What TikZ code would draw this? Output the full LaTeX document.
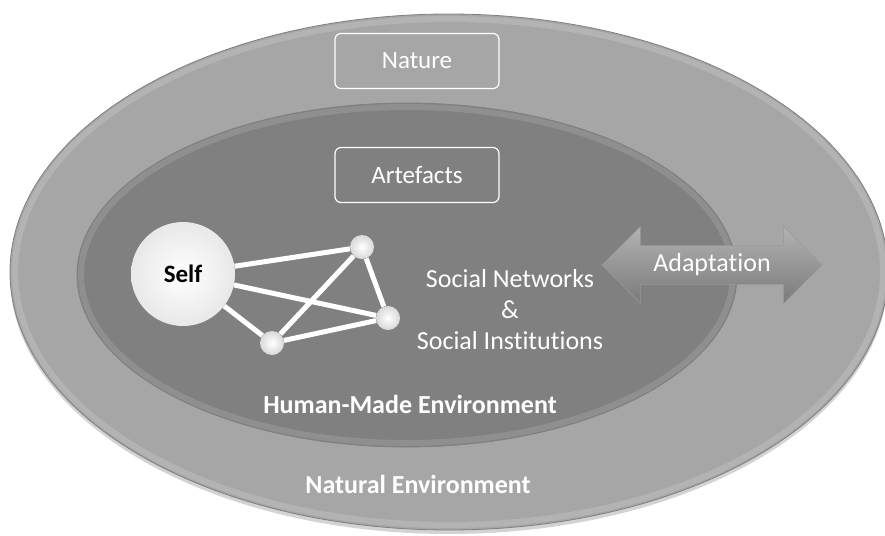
\documentclass[tikz,border=0pt]{standalone}
\usepackage{fontspec}
\setmainfont{Carlito}[Ligatures=NoCommon]
\usetikzlibrary{shapes.geometric,shapes.arrows,shadows,positioning}

\begin{document}
\begin{tikzpicture}
[x=1pt,y=-1pt,
    env/.style={shape=ellipse,inner sep=0pt,draw=black!50,line width=.8pt},
    bevel/.style={draw=white,opacity=.15,line width=6pt},
    box/.style={draw=white,rounded corners=6pt,line width=1.2pt,minimum width=164pt,
    minimum height=55pt,text=white,font=\fontsize{25}{29}\selectfont},
    self/.style={shape=circle,shading=radial,inner color=white,outer color=black!9,
    minimum size=104pt,inner sep=0pt,font=\bfseries\fontsize{25}{29}\selectfont},
    peer/.style={shape=circle,shading=radial,inner color=white,outer color=black!15,
    minimum size=24pt,inner sep=0pt},
    link/.style={white,line width=5pt},
    lab/.style={text=white,font=\fontsize{26}{31}\selectfont,align=center},
    envlab/.style={text=white,font=\bfseries\fontsize{26}{30}\selectfont},
    adapt/.style={shape=double arrow,double arrow head extend=19pt,minimum height=220pt,
    inner ysep=8pt,top color=black!30,bottom color=black!52,draw=black!40,
    text=white,font=\fontsize{26}{30}\selectfont}]
\useasboundingbox (0,0) rectangle (885,535);
%% environments
\node (nat) [env,fill=black!35,minimum width=878pt,minimum height=516pt,
  drop shadow={opacity=.35,shadow xshift=0pt,shadow yshift=-4pt}] at (449,272) {};
\draw[bevel] (449,272) ellipse [x radius=434, y radius=253];
\node (hum) [env,fill=black!50,minimum width=660pt,minimum height=344pt] at (407,275) {};
\draw[bevel,opacity=.12] (407,275) ellipse [x radius=326, y radius=168];
%% boxes
\node (nature) [box] at (417,61) {Nature};
\node (artef) [box] at (417,175) {Artefacts};
%% self and its network
\node (self) [self] at (183,274) {Self};
\node (p1) [peer] at (362,247) {};
\node (p2) [peer] at (388,318) {};
\node (p3) [peer] at (272,343) {};
\draw[link] (self) -- (p1);
\draw[link] (self) -- (p2);
\draw[link] (self) -- (p3);
\draw[link] (p1) -- (p2);
\draw[link] (p1) -- (p3);
\draw[link] (p3) -- (p2);
%% labels
\node (soc) [lab] at (510,310) {Social Networks\\\&\\Social Institutions};
\node (humlab) [envlab] at (410,404) {Human-Made Environment};
\node (natlab) [envlab] at (418,484) {Natural Environment};
%% adaptation
\node (adapt) [adapt] at (712,265) {Adaptation};
\end{tikzpicture}
\end{document}
